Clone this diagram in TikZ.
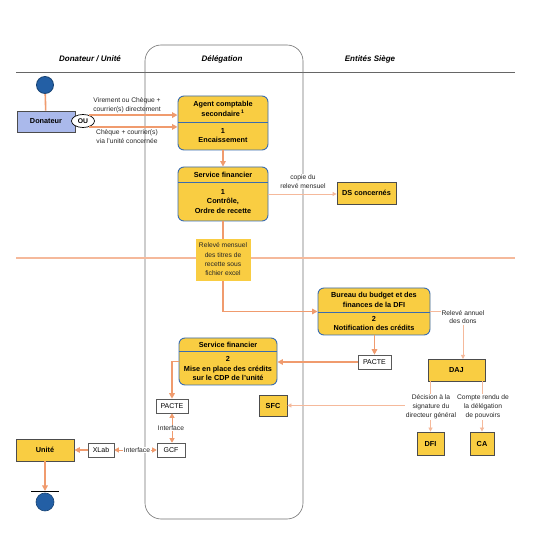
\documentclass[tikz,border=0pt]{standalone}
\usepackage{fontspec}
\setmainfont{Liberation Sans}
\usetikzlibrary{arrows.meta,shapes.geometric,fit,shadows}
\definecolor{boxyellow}{RGB}{249,205,66}
\definecolor{boxblue}{RGB}{58,108,175}
\definecolor{orng}{RGB}{240,155,110}
\definecolor{orngl}{RGB}{245,185,155}
\definecolor{lavender}{RGB}{170,185,235}
\definecolor{dotblue}{RGB}{35,95,165}
\begin{document}
\begin{tikzpicture}[x=1pt,y=-1pt,
  sz/.style 2 args={minimum width=#1pt, minimum height=#2pt},
  lane/.style={draw=black!60, line width=0.7pt},
  rbox/.style={draw=boxblue, fill=boxyellow, rounded corners=6pt, line width=0.9pt, inner sep=0pt},
  ybox/.style={draw=black!70, fill=boxyellow, line width=0.8pt, inner sep=0pt,
     font=\bfseries\fontsize{7.3}{9}\selectfont,
     drop shadow={shadow xshift=0.8pt, shadow yshift=-0.8pt, opacity=0.35, fill=black}},
  store/.style={draw=black!65, fill=white, line width=0.6pt, inner sep=0pt,
     font=\fontsize{7}{8}\selectfont,
     drop shadow={shadow xshift=0.8pt, shadow yshift=-0.8pt, opacity=0.3, fill=black}},
  flow/.style={draw=orng, line width=1.6pt, -{Triangle[length=5.5pt,width=5.5pt]}},
  flowline/.style={draw=orng, line width=1.6pt},
  info/.style={draw=orngl, line width=0.8pt, -{Triangle[length=4pt,width=4pt]}},
  both/.style={draw=orng, line width=0.8pt, {Triangle[length=4.5pt,width=5pt]}-{Triangle[length=4.5pt,width=5pt]}},
  lbl/.style={font=\fontsize{6.7}{8.8}\selectfont, align=center, fill=white, inner sep=0.8pt, text=black!85},
  hdr/.style={font=\bfseries\itshape\fontsize{8}{9}\selectfont},
  btxt/.style={font=\bfseries\fontsize{7.3}{9.6}\selectfont, align=center, inner sep=0pt}
]
\useasboundingbox (0,0) rectangle (550,540);
\fill[white] (0,0) rectangle (550,540);

% headers and lanes
\node[hdr] (hDon) at (90,59) {Donateur / Unité};
\node[hdr] (hDel) at (222,59) {Délégation};
\node[hdr] (hSie) at (370,59) {Entités Siège};
\draw[lane] (16,72) -- (515,72);
\node[draw=black!55, line width=0.6pt, rounded corners=16pt, inner sep=0pt, fit={(145,45)(303,519)}] (dlg) {};
\draw[draw=orngl, line width=1.3pt] (16,258) -- (515,258);

% start
\node[circle, fill=dotblue, draw=dotblue!70!black, line width=0.8pt, minimum size=17pt, inner sep=0pt] (start) at (45,85) {};
\node[draw=black!70, fill=lavender, line width=0.8pt, inner sep=0pt, sz={58}{21},
      font=\bfseries\fontsize{7.3}{9}\selectfont,
      drop shadow={shadow xshift=0.8pt, shadow yshift=-0.8pt, opacity=0.35, fill=black}] (don) at (46,121.5) {Donateur};
\node[ellipse, draw=black, fill=white, line width=0.7pt, minimum width=23pt, minimum height=13pt, inner sep=0pt,
      font=\bfseries\fontsize{6.8}{7}\selectfont] (ou) at (83,121) {OU};

% Agent comptable
\node[rbox, sz={90}{54}] (agent) at (223,123) {};
\draw[boxblue, line width=0.9pt] (178,122) -- (268,122);
\node[btxt] (agentT) at (223,109) {Agent comptable\\secondaire\,\textsuperscript{1}};
\node[btxt] (agentB) at (223,135.5) {1\\Encaissement};

% Service financier 1
\node[rbox, sz={90}{54}] (sf1) at (223,194) {};
\draw[boxblue, line width=0.9pt] (178,182) -- (268,182);
\node[btxt] (sf1T) at (223,174.5) {Service financier};
\node[btxt] (sf1B) at (223,201.5) {1\\Contrôle,\\Ordre de recette};

\node[ybox, sz={59}{22}] (ds) at (366.5,193) {DS concernés};

% note
\node[fill=boxyellow, inner sep=0pt, sz={55}{42}] (note) at (223,260) {};
\node[font=\fontsize{6.7}{9.3}\selectfont, align=center, inner sep=0pt, text=black!85] (noteT) at (223,259.5) {Relevé mensuel\\des titres de\\recette sous\\fichier excel};

% Bureau
\node[rbox, sz={112}{47}] (bur) at (374,311.5) {};
\draw[boxblue, line width=0.9pt] (318,312) -- (430,312);
\node[btxt] (burT) at (374,300) {Bureau du budget et des\\finances de la DFI};
\node[btxt] (burB) at (374,323.5) {2\\Notification des crédits};

\node[store, sz={33}{14}] (pacteR) at (374.5,362) {PACTE};

% Service financier 2
\node[rbox, sz={98}{47}] (sf2) at (228,361.5) {};
\draw[boxblue, line width=0.9pt] (179,351) -- (277,351);
\node[btxt] (sf2T) at (228,344.5) {Service financier};
\node[btxt] (sf2B) at (228,368.5) {2\\Mise en place des crédits\\sur le CDP de l'unité};

\node[ybox, sz={28}{21}] (sfc) at (273,405.5) {SFC};
\node[store, sz={32}{14}] (pacteL) at (172,406) {PACTE};
\node[store, sz={28}{14}] (gcf) at (171,450) {GCF};
\node[store, sz={26}{14}] (xlab) at (101,450) {XLab};
\node[ybox, sz={58}{22}] (unite) at (45,450) {Unité};

\node[ybox, sz={57}{22}] (daj) at (456.5,370) {DAJ};
\node[ybox, sz={27}{23}] (dfi) at (430.5,443.5) {DFI};
\node[ybox, sz={24}{23}] (ca) at (482,443.5) {CA};

% end
\node[circle, fill=dotblue, draw=dotblue!70!black, line width=0.6pt, minimum size=18pt, inner sep=0pt] (endc) at (45,502) {};
\coordinate (endtop) at (45,491);
\draw[black, line width=0.7pt] (31,491) -- (59,491);

% connectors
\draw[flowline] (start) -- (don);
\draw[flow] (ou.45) -- (ou.45 -| agent.west);
\draw[flow] (ou.-45) -- (ou.-45 -| agent.west);
\draw[flow] (agent.south) -- (sf1.north);
\draw[info] (sf1.east) -- (sf1.east -| ds.west);
\draw[flowline] (sf1.south) -- (note.north);
\draw[flow] (note.south) |- (bur.west);
\coordinate (dajin) at (463,359);
\draw[info] (bur.east) -| (dajin);
\draw[flow] (pacteR.north |- bur.south) -- (pacteR.north);
\draw[flow] (pacteR.west) -- (pacteR.west -| sf2.east);
\draw[flow] (sf2.west) -| (pacteL.north);
\draw[both] (pacteL.south) -- (pacteL.south |- gcf.north);
\draw[both] (gcf.west) -- (xlab.east);
\draw[flow] (xlab.west) -- (xlab.west -| unite.east);
\draw[flow] (unite.south) -- (endtop);
\draw[info] (daj.south -| dfi.north) -- (dfi.north);
\draw[info] (daj.south -| ca.north) -- (ca.north);
\draw[info] (dfi.north |- sfc.east) -- (sfc.east);

% labels
\node[lbl, fill=none] (l1) at (127,105.5) {Virement ou Chèque +\\courrier(s) directement};
\node[lbl, fill=none] (l2) at (127,136.5) {Chèque + courrier(s)\\via l'unité concernée};
\node[lbl] (l3) at (303,181.5) {copie du\\relevé mensuel};
\node[lbl] (l4) at (463,317) {Relevé annuel\\des dons};
\node[lbl] (l5) at (171,428) {Interface};
\node[lbl] (l6) at (137,450) {Interface};
\node[lbl] (l7) at (431,407) {Décision à la\\signature du\\directeur général};
\node[lbl] (l8) at (483,407) {Compte rendu de\\la délégation\\de pouvoirs};
\end{tikzpicture}
\end{document}
